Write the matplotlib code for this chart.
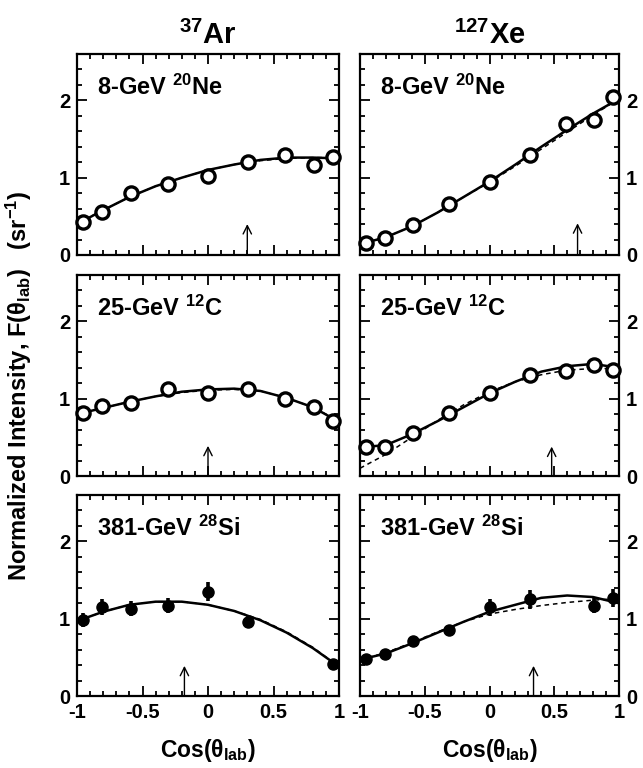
import matplotlib
matplotlib.use("Agg")
import matplotlib.pyplot as plt

plt.rcParams["font.family"] = ["Liberation Sans", "DejaVu Sans"]
plt.rcParams["font.weight"] = "bold"
plt.rcParams["mathtext.fontset"] = "custom"
plt.rcParams["mathtext.rm"] = "Liberation Sans:bold"
plt.rcParams["mathtext.it"] = "Liberation Sans:bold"
plt.rcParams["mathtext.bf"] = "Liberation Sans:bold"
plt.rcParams["mathtext.default"] = "rm"
plt.rcParams["axes.unicode_minus"] = False

# Angular bins (cos theta_lab)
cos_bins = [-0.951, -0.809, -0.588, -0.309, 0.0, 0.309, 0.588, 0.809, 0.951]
cos_si_ar = [-0.951, -0.809, -0.588, -0.309, 0.0, 0.309, 0.951]
cos_si_xe = [-0.951, -0.809, -0.588, -0.309, 0.0, 0.309, 0.809, 0.951]

# Measured normalized intensities
ar_ne8 = [0.43, 0.56, 0.80, 0.92, 1.02, 1.20, 1.29, 1.17, 1.27]
xe_ne8 = [0.16, 0.225, 0.385, 0.66, 0.945, 1.295, 1.69, 1.74, 2.05]
ar_c25 = [0.81, 0.91, 0.94, 1.125, 1.07, 1.125, 0.99, 0.89, 0.705]
xe_c25 = [0.38, 0.38, 0.56, 0.81, 1.07, 1.31, 1.36, 1.44, 1.37]
ar_si381 = [0.98, 1.15, 1.13, 1.17, 1.35, 0.96, 0.41]
ar_si381_err = [0.09, 0.10, 0.10, 0.10, 0.12, 0.08, 0.03]
xe_si381 = [0.48, 0.545, 0.705, 0.85, 1.15, 1.25, 1.17, 1.27]
xe_si381_err = [0.03, 0.03, 0.04, 0.07, 0.11, 0.12, 0.10, 0.12]

# Fit curves sampled on a regular cos grid
fit_grid = [-1.0, -0.8, -0.6, -0.4, -0.2, 0.0, 0.2, 0.4, 0.6, 0.8, 1.0]
ar_ne8_fit = [0.40, 0.58, 0.75, 0.89, 1.00, 1.10, 1.17, 1.23, 1.26, 1.26, 1.25]
ar_ne8_alt = [0.41, 0.58, 0.75, 0.89, 1.00, 1.10, 1.17, 1.22, 1.25, 1.26, 1.26]
xe_ne8_fit = [0.14, 0.23, 0.37, 0.55, 0.75, 0.95, 1.17, 1.40, 1.62, 1.83, 2.02]
xe_ne8_alt = [0.14, 0.23, 0.37, 0.55, 0.75, 0.94, 1.15, 1.37, 1.59, 1.81, 2.02]
ar_c25_fit = [0.80, 0.88, 0.96, 1.03, 1.09, 1.12, 1.13, 1.10, 1.01, 0.89, 0.70]
ar_c25_alt = [0.80, 0.88, 0.96, 1.03, 1.08, 1.11, 1.12, 1.10, 1.01, 0.89, 0.71]
xe_c25_fit = [0.37, 0.40, 0.54, 0.71, 0.89, 1.07, 1.22, 1.35, 1.42, 1.45, 1.40]
xe_c25_alt = [0.10, 0.28, 0.50, 0.72, 0.92, 1.09, 1.22, 1.31, 1.37, 1.39, 1.39]
ar_si381_fit = [0.97, 1.09, 1.18, 1.22, 1.22, 1.18, 1.10, 0.98, 0.82, 0.62, 0.38]
ar_si381_alt = [0.97, 1.09, 1.18, 1.22, 1.22, 1.18, 1.10, 0.99, 0.83, 0.63, 0.38]
xe_si381_fit = [0.47, 0.55, 0.68, 0.82, 0.96, 1.09, 1.18, 1.27, 1.30, 1.28, 1.20]
xe_si381_alt = [0.47, 0.56, 0.69, 0.83, 0.96, 1.06, 1.12, 1.17, 1.21, 1.24, 1.26]

# Arrow markers (cos position, tip height)
arrow_cos = [[0.30, 0.68], [0.0, 0.48], [-0.18, 0.34]]
arrow_tip = [[0.40, 0.41], [0.39, 0.38], [0.39, 0.39]]

targets = [r"$^{37}$Ar", r"$^{127}$Xe"]
beams = [r"8-GeV $^{20}$Ne", r"25-GeV $^{12}$C", r"381-GeV $^{28}$Si"]
x_ticks = [-1, -0.5, 0, 0.5, 1]
x_tick_labels = ["-1", "-0.5", "0", "0.5", "1"]
y_ticks = [0, 1, 2]
y_tick_labels = ["0", "1", "2"]

panels = [
    [(cos_bins, ar_ne8, None, ar_ne8_fit, ar_ne8_alt),
     (cos_bins, xe_ne8, None, xe_ne8_fit, xe_ne8_alt)],
    [(cos_bins, ar_c25, None, ar_c25_fit, ar_c25_alt),
     (cos_bins, xe_c25, None, xe_c25_fit, xe_c25_alt)],
    [(cos_si_ar, ar_si381, ar_si381_err, ar_si381_fit, ar_si381_alt),
     (cos_si_xe, xe_si381, xe_si381_err, xe_si381_fit, xe_si381_alt)],
]

W, H = 643, 768
fig = plt.figure(figsize=(W / 100, H / 100), dpi=100)

col_left = [77, 360]
col_width = [262, 259]
row_top = [54, 275, 495]
row_h = 201

for r in range(3):
    for c in range(2):
        ax = fig.add_axes([col_left[c] / W, 1 - (row_top[r] + row_h) / H,
                           col_width[c] / W, row_h / H])
        xs, ys, err, fit, alt = panels[r][c]
        ax.plot(fit_grid, alt, color="k", lw=1.1, ls=(0, (3, 2.5)), zorder=2)
        ax.plot(fit_grid, fit, color="k", lw=1.8, zorder=3)
        if err is None:
            ax.plot(xs, ys, "o", ms=9.5, mfc="white", mec="k", mew=2.4,
                    zorder=4, clip_on=False)
        else:
            ax.errorbar(xs, ys, yerr=err, fmt="o", ms=8, mfc="k", mec="k",
                        ecolor="k", elinewidth=2.6, capsize=0, zorder=4,
                        clip_on=False)
        ax.annotate("", xy=(arrow_cos[r][c], arrow_tip[r][c]),
                    xytext=(arrow_cos[r][c], 0),
                    arrowprops=dict(arrowstyle="->,head_length=0.6,head_width=0.3",
                                    lw=1.0, color="k", shrinkA=0, shrinkB=0))
        ax.text(0.076, 0.795, beams[r], transform=ax.transAxes,
                fontsize=17, fontweight="bold", ha="left", va="baseline")

        ax.set_xlim(-1, 1)
        ax.set_ylim(0, 2.6)
        ax.set_xticks(x_ticks)
        ax.set_xticks([v / 10 for v in range(-10, 11)], minor=True)
        ax.set_yticks(y_ticks)
        ax.set_yticks([v / 5 for v in range(0, 14)], minor=True)
        ax.set_yticklabels(y_tick_labels)
        if r == 2:
            ax.set_xticklabels(x_tick_labels)
            ax.set_xlabel(r"Cos($\theta_{lab}$)", fontsize=16.5, fontweight="bold",
                          labelpad=11)
        else:
            ax.set_xticklabels([])
        ax.tick_params(which="both", direction="in", top=True, right=True,
                       width=1.3, labelsize=14.5, pad=5)
        ax.tick_params(which="major", length=7)
        ax.tick_params(which="minor", length=3.5)
        if c == 1:
            ax.tick_params(labelleft=False, labelright=True)
        for s in ax.spines.values():
            s.set_linewidth(1.6)
        if r == 0:
            ax.set_title(targets[c], fontsize=21, fontweight="bold", pad=7)

fig.text(19 / W, 0.497, r"Normalized Intensity, F($\theta_{lab}$)   (sr$^{-1}$)",
         rotation=90, ha="center", va="center", fontsize=17, fontweight="bold")

fig.savefig("out.png", dpi=100)
